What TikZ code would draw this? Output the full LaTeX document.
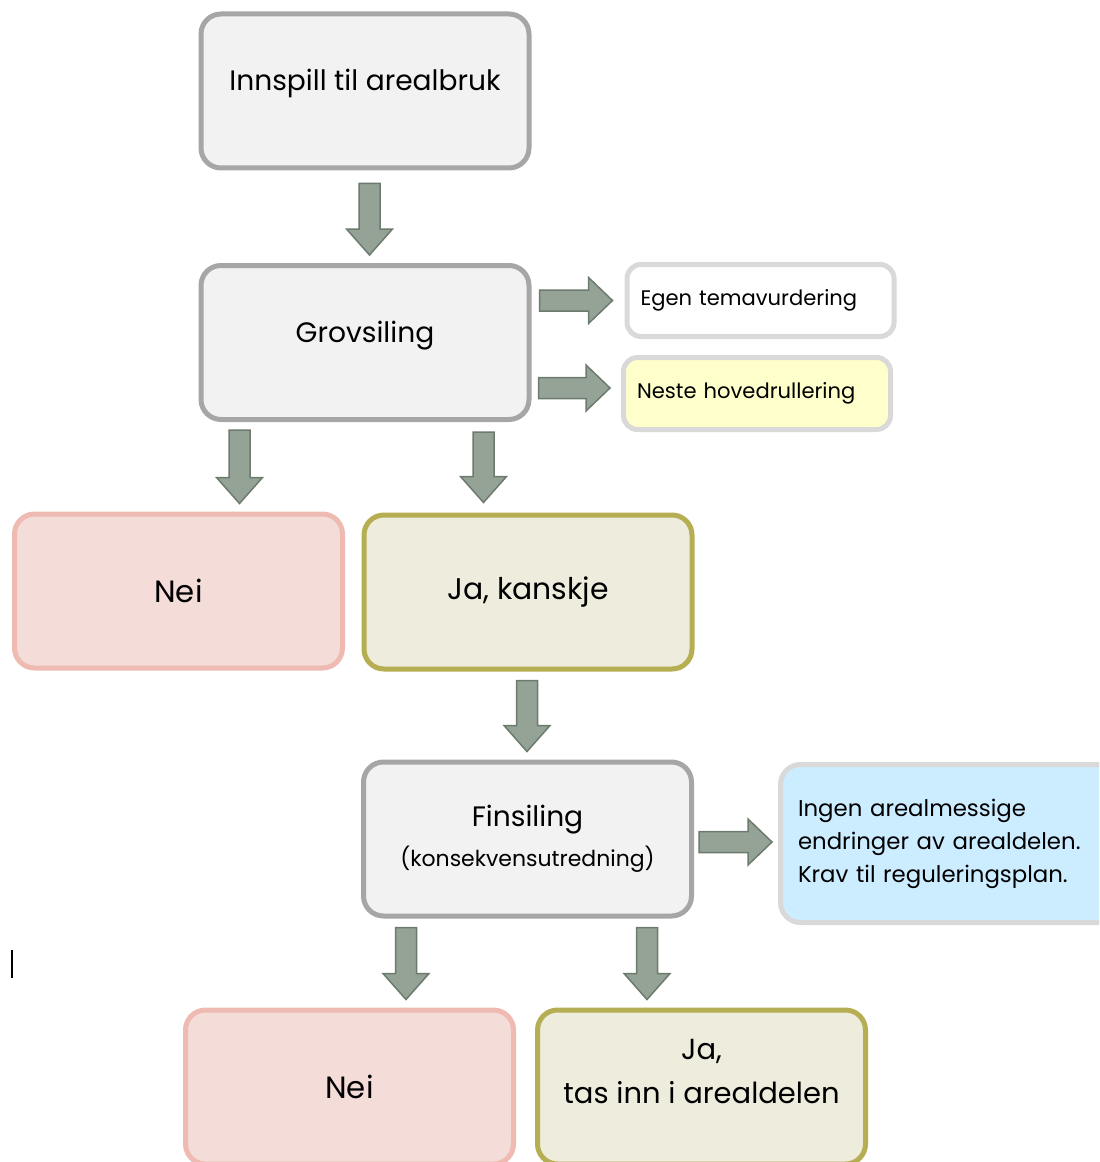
\documentclass[tikz,border=0pt]{standalone}
\usepackage{fontspec}
\setmainfont{Poppins}
\usetikzlibrary{calc}
\newdimen\px \px=0.02cm
\definecolor{boxgray}{HTML}{A6A6A6}
\definecolor{boxfill}{HTML}{F2F2F2}
\definecolor{paleline}{HTML}{D9D9D9}
\definecolor{neifill}{HTML}{F4DCD9}
\definecolor{neiline}{HTML}{EEBAB2}
\definecolor{jafill}{HTML}{EEECDD}
\definecolor{jaline}{HTML}{B6AE52}
\definecolor{gulfill}{HTML}{FFFFCC}
\definecolor{blafill}{HTML}{CCECFF}
\definecolor{pilfill}{HTML}{95A396}
\definecolor{pilline}{HTML}{6D7B6F}
\begin{document}
\begin{tikzpicture}[x=0.02cm,y=-0.02cm,
 trinn/.style={draw=boxgray,fill=boxfill,line width=5\px,rounded corners=20\px,minimum width=328\px,minimum height=154\px,inner sep=0pt,align=center,font=\fontsize{16}{20}\selectfont},
 midtlinje/.style={text height=8\px,text depth=8\px},
 neiboks/.style={trinn,draw=neiline,fill=neifill,font=\fontsize{17.5}{20}\selectfont},
 jaboks/.style={trinn,draw=jaline,fill=jafill},
 notat/.style={draw=paleline,fill=white,line width=5\px,rounded corners=14\px,inner xsep=13.5\px,inner ysep=0pt,text width=240\px,minimum height=72\px,align=left,font=\fontsize{12}{15}\selectfont},
 nedpil/.style={fill=pilfill,draw=pilline,line width=1.5\px,to path={($(\tikztostart)+(-10.5,0)$)--($(\tikztotarget)+(-10.5,-26)$)--($(\tikztotarget)+(-23,-26)$)--(\tikztotarget)--($(\tikztotarget)+(23,-26)$)--($(\tikztotarget)+(10.5,-26)$)--($(\tikztostart)+(10.5,0)$)--cycle}},
 hoyrepil/.style={fill=pilfill,draw=pilline,line width=1.5\px,to path={($(\tikztostart)+(0,-10.5)$)--($(\tikztotarget)+(-24,-10.5)$)--($(\tikztotarget)+(-24,-23)$)--(\tikztotarget)--($(\tikztotarget)+(-24,23)$)--($(\tikztotarget)+(-24,10.5)$)--($(\tikztostart)+(0,10.5)$)--cycle}}]
\path[use as bounding box,clip](0,0)rectangle(1099,1162);
\node[trinn,midtlinje](innspill)at(365,91){Innspill til arealbruk};
\node[trinn,midtlinje](grov)at(365,342.5){Grovsiling};
\node[notat](egen)at(760.5,300.5){Egen temavurdering};
\node[notat,fill=gulfill](neste)at(757,393.5){Neste hovedrullering};
\node[neiboks](nei)at(178.5,591){Nei};
\node[jaboks,font=\fontsize{17}{20}\selectfont](ja)at(528,592){Ja, kanskje};
\node[trinn](fin)at(527.5,839){Finsiling\\[3pt]{\fontsize{12.5}{14}\selectfont(konsekvensutredning)}};
\node[notat,fill=blafill,inner xsep=17.5\px,text width=320\px,minimum height=158\px,rounded corners=20\px,font=\fontsize{13}{18.8}\selectfont](ingen)at(958,843.5){Ingen arealmessige\\endringer av arealdelen.\\Krav til reguleringsplan.};
\node[neiboks](nei2)at(349.5,1087){Nei};
\node[jaboks,font=\fontsize{16.5}{24.5}\selectfont,text height=40\px,text depth=8\px](ja2)at(701.5,1087){Ja,\\tas inn i arealdelen};
\draw[nedpil]($(innspill.south)+(4.5,13)$)to($(grov.north)+(4.5,-8)$);
\draw[hoyrepil]($(grov.east|-egen.west)+(8,0)$)to($(egen.west)+(-12,0)$);
\draw[hoyrepil]($(grov.east|-neste.west)+(7,-5.5)$)to($(neste.west)+(-11,-5.5)$);
\draw[nedpil]($(grov.south west)+(41,8)$)to($(grov.south west|-nei.north)+(41,-8)$);
\draw[nedpil]($(grov.south east)+(-48,10)$)to($(grov.south east|-ja.north)+(-48,-10)$);
\draw[nedpil]($(ja.south)+(-1,9)$)to($(ja.south|-fin.north)+(-1,-8)$);
\draw[hoyrepil]($(fin.east|-ingen.west)+(5,-1.5)$)to($(ingen.west)+(-6,-1.5)$);
\draw[nedpil]($(fin.south west)+(45,9)$)to($(fin.south west|-nei2.north)+(45,-8)$);
\draw[nedpil]($(fin.south east)+(-47,9)$)to($(fin.south east|-ja2.north)+(-47,-8)$);
\draw[line width=1.2\px](12,950)--(12,978);
\end{tikzpicture}
\end{document}
